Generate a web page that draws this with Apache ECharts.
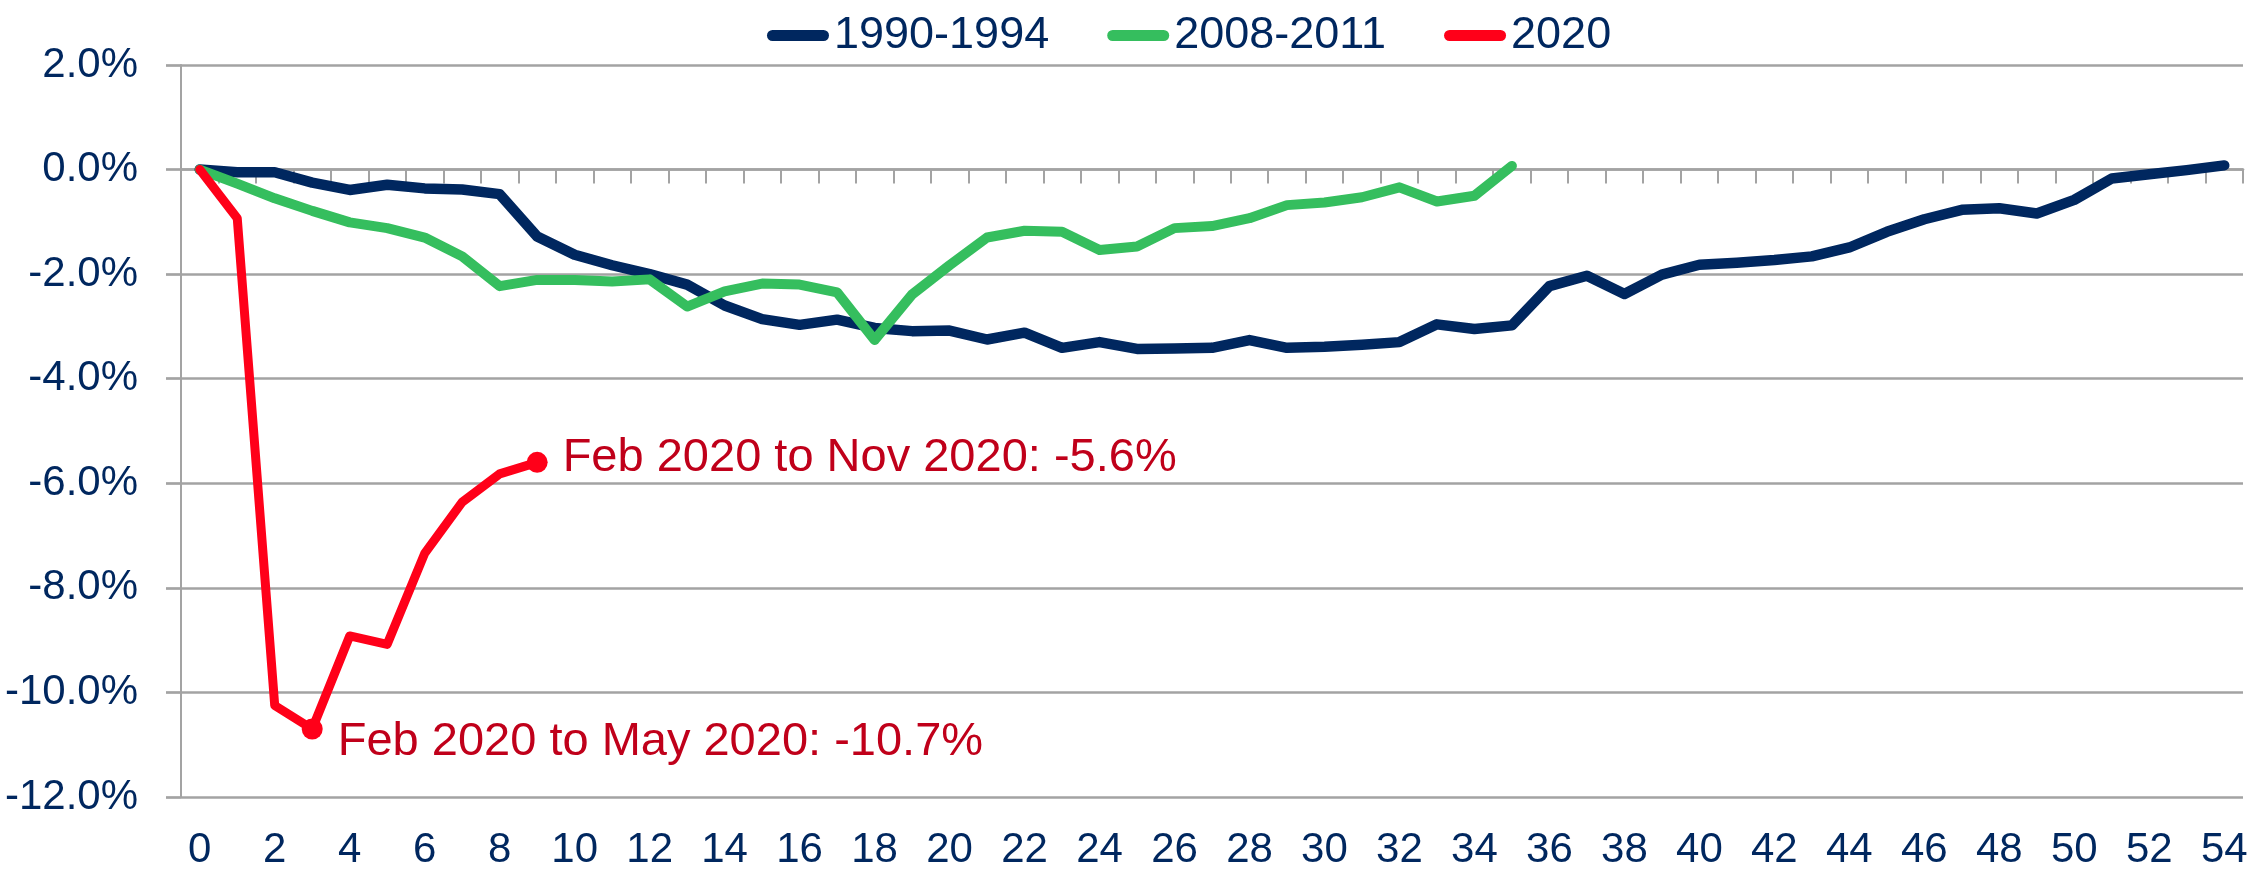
<!DOCTYPE html>
<html>
<head>
<meta charset="utf-8">
<script src="https://cdn.jsdelivr.net/npm/echarts@6/dist/echarts.min.js"></script>
<style>
  html, body { margin: 0; padding: 0; background: #fff; }
  #chart { width: 2267px; height: 882px; }
</style>
</head>
<body>
<div id="chart"></div>
<script>
// months since the start of each downturn
const months = ['0','1','2','3','4','5','6','7','8','9','10','11','12','13','14','15','16','17','18','19',
  '20','21','22','23','24','25','26','27','28','29','30','31','32','33','34','35','36','37','38','39',
  '40','41','42','43','44','45','46','47','48','49','50','51','52','53','54'];

// cumulative % change since the start
const early90s = [0, -0.05, -0.05, -0.25, -0.39, -0.29, -0.36, -0.38, -0.47, -1.28,
  -1.63, -1.83, -2.0, -2.2, -2.6, -2.86, -2.97, -2.87, -3.03, -3.09,
  -3.08, -3.25, -3.12, -3.41, -3.3, -3.43, -3.42, -3.41, -3.26, -3.41,
  -3.39, -3.35, -3.3, -2.96, -3.05, -2.98, -2.23, -2.03, -2.38, -2.01,
  -1.82, -1.78, -1.73, -1.66, -1.49, -1.19, -0.95, -0.77, -0.74, -0.84,
  -0.58, -0.17, -0.09, -0.01, 0.08];

const greatRecession = [0, -0.27, -0.55, -0.79, -1.01, -1.12, -1.3, -1.66, -2.23, -2.11,
  -2.11, -2.14, -2.1, -2.62, -2.33, -2.18, -2.2, -2.35, -3.26, -2.39,
  -1.83, -1.3, -1.17, -1.19, -1.54, -1.47, -1.12, -1.08, -0.93, -0.68,
  -0.63, -0.53, -0.34, -0.61, -0.5, 0.07];

const covid = [0, -0.93, -10.25, -10.7, -8.92, -9.08, -7.34, -6.36, -5.82, -5.6];

const seriesNames = ['1990-1994', '2008-2011', '2020'];
const yTicks = [-12, -10, -8, -6, -4, -2, 0, 2];

// callouts on the 2020 line
const callouts = { 3: 'Feb 2020 to May 2020: -10.7%', 9: 'Feb 2020 to Nov 2020: -5.6%' };

const FONT = "'Liberation Sans', Arial, sans-serif";
const NAVY = '#00275F';
const GREEN = '#35BE5E';
const RED = '#FF0019';
const GRID = '#a3a3a3';

const chart = echarts.init(document.getElementById('chart'));

const covidData = covid.map((v, i) => {
  if (!callouts[i]) return v;
  return {
    value: v,
    symbol: 'circle',
    symbolSize: 21,
    label: {
      show: true,
      position: 'right',
      distance: 15,
      offset: i === 3 ? [0, 13] : [0, -4],
      formatter: callouts[i],
      color: '#C0001A',
      fontFamily: FONT,
      fontSize: 47
    }
  };
});

const lineCap = { cap: 'round', join: 'round' };

chart.setOption({
  animation: false,
  legend: {
    data: seriesNames,
    top: 8,
    left: 762,
    itemWidth: 62,
    itemHeight: 11,
    itemGap: 58,
    icon: 'path://M5.5,0 H56.5 A5.5,5.5 0 0 1 56.5,11 H5.5 A5.5,5.5 0 0 1 5.5,0 Z',
    textStyle: { color: NAVY, fontFamily: FONT, fontSize: 45 }
  },
  grid: { left: 181, right: 24, top: 65, bottom: 85, containLabel: false, outerBoundsMode: 'none' },
  xAxis: [
    {
      // axis line through zero with the small ticks
      type: 'category',
      data: months,
      boundaryGap: true,
      axisLine: { onZero: true, lineStyle: { color: GRID, width: 2.7 } },
      axisTick: { show: true, interval: 0, length: 14, inside: false, lineStyle: { color: GRID, width: 2 } },
      axisLabel: { show: false },
      splitLine: { show: false }
    },
    {
      // labels along the bottom
      type: 'category',
      data: months,
      position: 'bottom',
      boundaryGap: true,
      axisLine: { show: false, onZero: false },
      axisTick: { show: false },
      axisLabel: { interval: 1, margin: 32, color: NAVY, fontFamily: FONT, fontSize: 42 },
      splitLine: { show: false }
    }
  ],
  yAxis: {
    type: 'value',
    min: yTicks[0],
    max: yTicks[yTicks.length - 1],
    interval: 2,
    axisLine: { show: true, lineStyle: { color: GRID, width: 2 } },
    axisTick: { show: true, length: 15, lineStyle: { color: GRID, width: 2.7 } },
    axisLabel: {
      margin: 43,
      color: NAVY,
      fontFamily: FONT,
      fontSize: 42,
      formatter: v => v.toFixed(1) + '%'
    },
    splitLine: { show: true, lineStyle: { color: GRID, width: 2.7 } }
  },
  series: [
    {
      name: seriesNames[0],
      type: 'line',
      data: early90s,
      showSymbol: false,
      symbol: 'none',
      itemStyle: { color: NAVY },
      lineStyle: { color: NAVY, width: 10.5, ...lineCap }
    },
    {
      name: seriesNames[1],
      type: 'line',
      data: greatRecession,
      showSymbol: false,
      symbol: 'none',
      itemStyle: { color: GREEN },
      lineStyle: { color: GREEN, width: 10, ...lineCap }
    },
    {
      name: seriesNames[2],
      type: 'line',
      data: covidData,
      symbol: 'none',
      itemStyle: { color: RED },
      lineStyle: { color: RED, width: 9, ...lineCap }
    }
  ]
});
</script>
</body>
</html>
